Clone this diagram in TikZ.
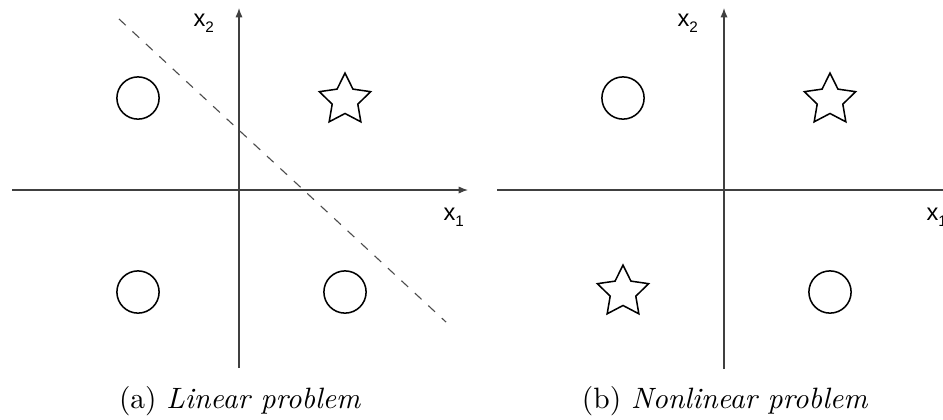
\documentclass[tikz,border=0pt]{standalone}
\usepackage{fontspec}
\usepackage{tikz}
\usetikzlibrary{shapes.geometric, arrows.meta}
\newfontfamily\axisfont{Liberation Sans}
\newcommand{\axislbl}[1]{{\fontsize{8.5}{9}\axisfont x\raisebox{-2.5pt}{\fontsize{5.5}{6}\selectfont #1}}}

\begin{document}
\begin{tikzpicture}[x=0.36pt, y=-0.36pt,
    axis/.style={draw=black!75, line width=0.4pt, -{Latex[length=3.4pt, width=2.6pt]}},
    circmark/.style={draw, circle, line width=0.55pt, minimum size=15.2pt, inner sep=0pt},
    starmark/.style={draw, star, star points=5, star point ratio=2, line width=0.55pt, minimum size=19.4pt, inner sep=0pt},
    lbl/.style={anchor=base west, inner sep=0pt},
    caption/.style={anchor=base, inner sep=0pt, font=\fontsize{10.6}{12}\selectfont}]
    \useasboundingbox (0,0) rectangle (943,419);

    % (a) linear problem
    \coordinate (a-west) at (12,190);
    \coordinate (a-east) at (468,190);
    \coordinate (a-south) at (239,368);
    \coordinate (a-north) at (239,8);
    \draw[axis] (a-west) -- (a-east);
    \draw[axis] (a-south) -- (a-north);
    \node[lbl] (a-x1) at (443,220) {\axislbl{1}};
    \node[lbl] (a-x2) at (193,26) {\axislbl{2}};
    \node[circmark] (a-nw) at (138,98) {};
    \node[starmark] (a-ne) at (345,100) {};
    \node[circmark] (a-sw) at (138,292) {};
    \node[circmark] (a-se) at (345,292) {};
    \coordinate (sep-top) at (119,19);
    \coordinate (sep-bot) at (446,322);
    \draw[black!70, line width=0.4pt, dash pattern=on 3.3pt off 3.3pt] (sep-top) -- (sep-bot);
    \node[caption] (a-cap) at (240,408) {(a) \textit{Linear problem}};

    % (b) nonlinear problem
    \coordinate (b-west) at (497,190);
    \coordinate (b-east) at (953,190);
    \coordinate (b-south) at (724,369);
    \coordinate (b-north) at (724,8);
    \draw[axis] (b-west) -- (b-east);
    \draw[axis] (b-south) -- (b-north);
    \node[lbl] (b-x1) at (926,220) {\axislbl{1}};
    \node[lbl] (b-x2) at (677,26) {\axislbl{2}};
    \node[circmark] (b-nw) at (623,98) {};
    \node[starmark] (b-ne) at (830,100) {};
    \node[starmark] (b-sw) at (623,292) {};
    \node[circmark] (b-se) at (830,292) {};
    \node[caption] (b-cap) at (725,408) {(b) \textit{Nonlinear problem}};
\end{tikzpicture}
\end{document}
